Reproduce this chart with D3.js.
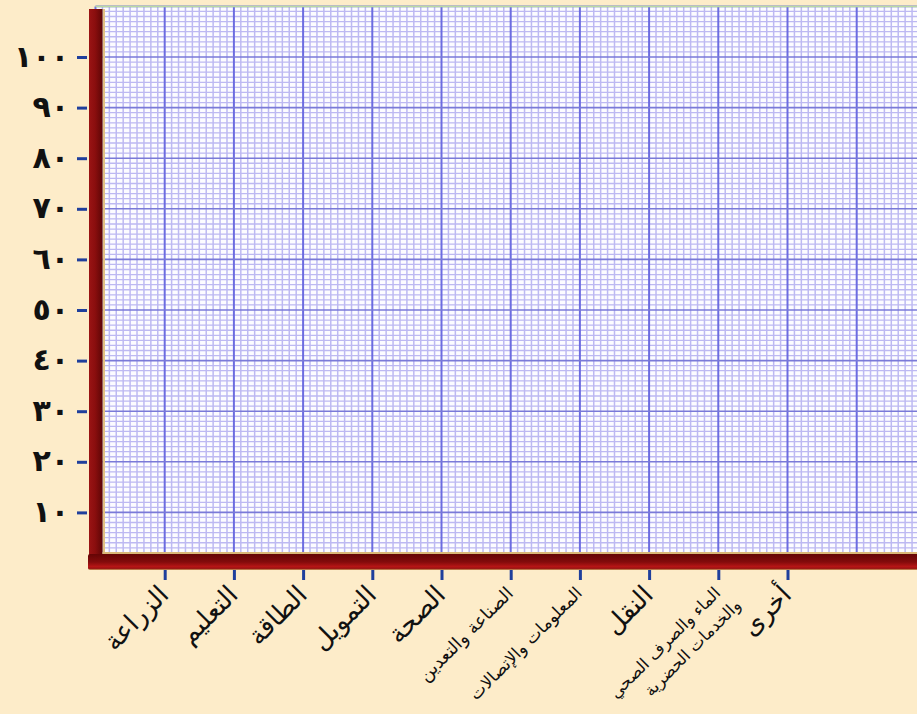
<!DOCTYPE html>
<meta charset="utf-8">
<style>
html, body { margin: 0; padding: 0; background-color: #fdecc9; }
svg { display: block; }
.ylab text { font-family: "DejaVu Sans", sans-serif; font-weight: bold; font-size: 30px; letter-spacing: 3px; fill: #111; }
.xlab { font-family: "DejaVu Sans", sans-serif; fill: #111; }
</style>
<div id="container"></div>
<script src="https://cdn.jsdelivr.net/npm/d3@7"></script>
<script>

// data
var categories = ['الزراعة', 'التعليم', 'الطاقة', 'التمويل', 'الصحة',
  'الصناعة والتعدين', 'المعلومات والإتصالات', 'النقل',
  'الماء والصرف الصحي\nوالخدمات الحضرية', 'أخرى'];
var categoryPos = [1, 2, 3, 4, 5, 6, 7, 8, 9, 10];
var yTickValues = [10, 20, 30, 40, 50, 60, 70, 80, 90, 100];
var yTickLabels = ['١٠', '٢٠', '٣٠', '٤٠', '٥٠', '٦٠', '٧٠', '٨٠', '٩٠', '١٠٠'];

var width = 917, height = 714;

var svg = d3.select('#container').append('svg')
    .attr('width', width)
    .attr('height', height);

var x = d3.scaleLinear().domain([0, 12]).range([95.5, 95.5 + 12 * 69.2]);
var y = d3.scaleLinear().domain([0, 110]).range([563, 6.4]);

var defs = svg.append('defs');
var gv = defs.append('linearGradient').attr('id', 'vbar').attr('x1', 0).attr('x2', 1).attr('y1', 0).attr('y2', 0);
gv.append('stop').attr('offset', '0%').attr('stop-color', '#9a1414');
gv.append('stop').attr('offset', '45%').attr('stop-color', '#8a0e0e');
gv.append('stop').attr('offset', '100%').attr('stop-color', '#5e0606');
var gh = defs.append('linearGradient').attr('id', 'hbar').attr('x1', 0).attr('x2', 0).attr('y1', 0).attr('y2', 1);
gh.append('stop').attr('offset', '0%').attr('stop-color', '#640505');
gh.append('stop').attr('offset', '50%').attr('stop-color', '#830b0b');
gh.append('stop').attr('offset', '80%').attr('stop-color', '#b81616');
gh.append('stop').attr('offset', '90%').attr('stop-color', '#9a1010');
gh.append('stop').attr('offset', '100%').attr('stop-color', '#c9a25e');

// graph paper
var grid = svg.append('g');
grid.append('rect')
    .attr('x', x(0)).attr('y', y(110))
    .attr('width', width - x(0)).attr('height', y(0) - y(110))
    .attr('fill', '#fcfcff');

var xMinor = d3.range(0, 120.5, 1).map(function(d) { return d / 10; });
var yMinor = d3.range(0, 111, 1);

grid.selectAll('.vminor').data(xMinor.filter(function(d, i) { return i % 10 !== 0; }))
  .enter().append('line')
    .attr('x1', function(d) { return x(d); }).attr('x2', function(d) { return x(d); })
    .attr('y1', y(110)).attr('y2', y(0))
    .attr('stroke', '#bdb9f2').attr('stroke-width', 1.5);
grid.selectAll('.hminor').data(yMinor.filter(function(d) { return d % 10 !== 0; }))
  .enter().append('line')
    .attr('y1', function(d) { return y(d); }).attr('y2', function(d) { return y(d); })
    .attr('x1', x(0)).attr('x2', width)
    .attr('stroke', '#bdb9f2').attr('stroke-width', 1.3);
grid.selectAll('.vmajor').data(d3.range(0, 13))
  .enter().append('line')
    .attr('x1', function(d) { return x(d); }).attr('x2', function(d) { return x(d); })
    .attr('y1', y(110)).attr('y2', y(0))
    .attr('stroke', '#6c6ce0').attr('stroke-width', 2);
grid.selectAll('.hmajor').data(d3.range(0, 111, 10))
  .enter().append('line')
    .attr('y1', function(d) { return y(d); }).attr('y2', function(d) { return y(d); })
    .attr('x1', x(0)).attr('x2', width)
    .attr('stroke', '#7a7ad8').attr('stroke-width', 1.6);
grid.append('line')
    .attr('x1', x(0)).attr('x2', width).attr('y1', y(110)).attr('y2', y(110))
    .attr('stroke', '#b9d9a2').attr('stroke-width', 1.5);

// red frame
svg.append('rect')
    .attr('x', x(0) + 7).attr('y', 9).attr('width', 2.5).attr('height', y(0) - 9)
    .attr('fill', '#e2c184');
svg.append('rect')
    .attr('x', x(0) - 6.5).attr('y', 9).attr('width', 13.5).attr('height', y(0) - 6)
    .attr('fill', 'url(#vbar)');
svg.append('rect')
    .attr('x', x(0) + 7).attr('y', y(0) - 11).attr('width', width).attr('height', 2)
    .attr('fill', '#d9b777');
svg.append('rect')
    .attr('x', x(0) - 7.5).attr('y', y(0) - 9).attr('width', width).attr('height', 16)
    .attr('rx', 2)
    .attr('fill', 'url(#hbar)');

// y axis
var yAxis = d3.axisLeft(y)
    .tickValues(yTickValues)
    .tickFormat(function(d, i) { return yTickLabels[i]; })
    .tickSize(10)
    .tickPadding(8);
var yg = svg.append('g')
    .attr('class', 'ylab')
    .attr('transform', 'translate(87,0)')
    .call(yAxis);
yg.select('.domain').remove();
yg.selectAll('.tick line').attr('stroke', '#1f3f9c').attr('stroke-width', 3);
yg.selectAll('.tick text').attr('dy', '0.3em').attr('fill', '#111');

// x axis
var xAxis = d3.axisBottom(x)
    .tickValues(categoryPos)
    .tickFormat('')
    .tickSize(10);
var xg = svg.append('g')
    .attr('transform', 'translate(0,570)')
    .call(xAxis);
xg.select('.domain').remove();
xg.selectAll('.tick line').attr('stroke', '#1f3f9c').attr('stroke-width', 3);

// long labels were set in a smaller type in the original
var labelSize = function(s) {
  if (s.indexOf('\n') >= 0) return 16.5;
  if (s.length > 18) return 17;
  if (s.length > 12) return 18;
  return 26;
};

var labels = svg.append('g').selectAll('text')
    .data(categories)
  .enter().append('text')
    .attr('class', 'xlab')
    .attr('text-anchor', 'end')
    .attr('font-size', function(d) { return labelSize(d) + 'px'; })
    .attr('transform', function(d, i) {
      return 'translate(' + (x(categoryPos[i]) - 1) + ',590) rotate(-45)';
    });

labels.each(function(d) {
  var t = d3.select(this);
  d.split('\n').forEach(function(line, j) {
    t.append('tspan')
      .attr('x', j === 0 ? 0 : 6)
      .attr('dy', j === 0 ? '0.35em' : '1.4em')
      .text(line);
  });
});

</script>
